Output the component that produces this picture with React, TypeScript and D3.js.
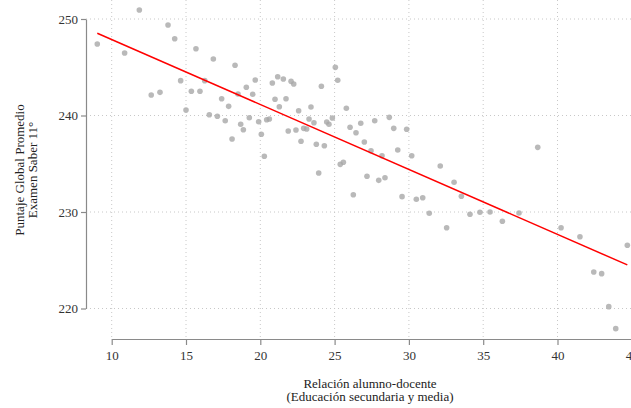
import React from 'react';
import * as d3 from 'd3';

// student-teacher ratio (x) and mean Saber 11 score (y)
const ratio = [
  9.03, 11.86, 10.87, 13.79, 14.24, 12.66, 13.25, 14.64, 15.0, 15.67,
  15.36, 15.94, 16.26, 16.84, 16.57, 17.11, 17.4, 17.87, 17.64, 18.3,
  18.5, 18.68, 18.86, 18.1, 19.26, 19.06, 19.49, 19.66, 19.89, 20.07,
  20.43, 20.61, 20.81, 20.99, 21.17, 21.28, 20.27, 21.55, 21.73, 22.07,
  22.25, 21.88, 22.4, 22.58, 22.74, 22.92, 23.12, 23.28, 23.41, 23.61,
  23.77, 23.93, 24.11, 24.31, 24.47, 24.62, 24.85, 25.05, 25.21, 25.38,
  25.59, 25.79, 26.04, 26.26, 26.44, 26.76, 27.0, 27.18, 27.45, 27.7,
  27.97, 28.19, 28.39, 28.68, 28.98, 29.25, 29.54, 29.85, 30.19, 30.5,
  30.93, 31.37, 32.11, 33.04, 33.53, 32.54, 34.11, 34.78, 35.46, 36.29,
  37.41, 38.67, 40.24, 41.51, 44.7, 42.44, 42.97, 43.45, 43.92
];
const score = [
  247.41, 250.93, 246.48, 249.38, 247.96, 242.12, 242.4, 243.61, 240.57, 246.92,
  242.51, 242.51, 243.61, 245.85, 240.08, 239.92, 241.74, 240.95, 239.46, 245.2,
  242.23, 239.09, 238.53, 237.56, 239.77, 242.92, 242.2, 243.68, 239.36, 238.05,
  239.56, 239.64, 243.37, 241.68, 244.02, 240.91, 235.77, 243.78, 241.74, 243.54,
  243.26, 238.39, 238.5, 240.5, 237.33, 238.67, 238.6, 239.64, 240.88, 239.25,
  237.02, 234.04, 243.03, 236.87, 239.33, 239.09, 239.74, 244.99, 243.65, 234.94,
  235.15, 240.75, 238.78, 231.79, 238.22, 239.19, 237.25, 233.7, 236.35, 239.46,
  233.28, 235.83, 233.55, 239.81, 238.67, 236.42, 231.59, 238.57, 235.83, 231.32,
  231.48, 229.87, 234.77, 233.08, 231.63, 228.37, 229.76, 229.97, 230.0, 229.04,
  229.9, 236.7, 228.37, 227.44, 226.55, 223.78, 223.61, 220.19, 217.91
];

// linear fit shown in red
const fitIntercept = 254.6;
const fitSlope = -0.673;

const xTicks = [10, 15, 20, 25, 30, 35, 40, 45];
const yTicks = [220, 230, 240, 250];

const W = 631;
const H = 408;
const FONT = '"Liberation Serif", "Times New Roman", serif';

const Chart = () => {
  const svgRef = React.useRef<SVGSVGElement>(null);

  React.useEffect(() => {
    const svg = d3.select(svgRef.current);
    svg.selectAll('*').remove();

    const x = d3.scaleLinear().domain([10, 45]).range([111.7, 631.8]);
    const y = d3.scaleLinear().domain([220, 250]).range([308.5, 19]);
    const axisX = 86;
    const axisY = 339;

    // grid
    svg.append('g')
      .selectAll('line')
      .data(xTicks)
      .enter()
      .append('line')
      .attr('x1', (d) => x(d))
      .attr('x2', (d) => x(d))
      .attr('y1', 0)
      .attr('y2', axisY)
      .attr('stroke', '#c8c8c8')
      .attr('stroke-width', 1)
      .style('stroke-dasharray', '1,3');

    svg.append('g')
      .selectAll('line')
      .data(yTicks)
      .enter()
      .append('line')
      .attr('x1', axisX)
      .attr('x2', W)
      .attr('y1', (d) => y(d))
      .attr('y2', (d) => y(d))
      .attr('stroke', '#c8c8c8')
      .attr('stroke-width', 1)
      .style('stroke-dasharray', '1,3');

    // axes
    const gx = svg.append('g')
      .attr('transform', `translate(0,${axisY})`)
      .call(d3.axisBottom(x).tickValues(xTicks).tickSize(6).tickSizeOuter(0).tickPadding(6));
    const gy = svg.append('g')
      .attr('transform', `translate(${axisX},0)`)
      .call(d3.axisLeft(y).tickValues(yTicks).tickSize(5).tickSizeOuter(0).tickPadding(3));

    [gx, gy].forEach((g) => {
      g.selectAll('path').attr('stroke', '#8a8a8a').attr('stroke-width', 1.2);
      g.selectAll('line').attr('stroke', '#8a8a8a').attr('stroke-width', 1.2);
      g.selectAll('text')
        .attr('fill', '#333')
        .style('font-family', FONT)
        .style('font-size', '13px');
    });

    // points
    svg.append('g')
      .selectAll('circle')
      .data(ratio.map((r, i) => ({ r, s: score[i] })))
      .enter()
      .append('circle')
      .attr('cx', (d) => x(d.r))
      .attr('cy', (d) => y(d.s))
      .attr('r', 2.8)
      .attr('fill', '#a8a8a8')
      .attr('fill-opacity', 0.8);

    // fitted line over the range of the data
    const [xmin, xmax] = d3.extent(ratio) as [number, number];
    svg.append('line')
      .attr('x1', x(xmin))
      .attr('y1', y(fitIntercept + fitSlope * xmin))
      .attr('x2', x(xmax))
      .attr('y2', y(fitIntercept + fitSlope * xmax))
      .attr('stroke', '#ff0000')
      .attr('stroke-width', 1.5);

    // titles
    svg.append('text')
      .attr('x', 370)
      .attr('y', 388)
      .style('text-anchor', 'middle')
      .style('font-family', FONT)
      .style('font-size', '13px')
      .attr('fill', '#222')
      .text('Relación alumno-docente');
    svg.append('text')
      .attr('x', 370)
      .attr('y', 401)
      .style('text-anchor', 'middle')
      .style('font-family', FONT)
      .style('font-size', '13px')
      .attr('fill', '#222')
      .text('(Educación secundaria y media)');

    svg.append('text')
      .attr('transform', 'translate(24,170) rotate(-90)')
      .style('text-anchor', 'middle')
      .style('font-family', FONT)
      .style('font-size', '13px')
      .attr('fill', '#222')
      .text('Puntaje Global Promedio');
    svg.append('text')
      .attr('transform', 'translate(37,170) rotate(-90)')
      .style('text-anchor', 'middle')
      .style('font-family', FONT)
      .style('font-size', '13px')
      .attr('fill', '#222')
      .text('Examen Saber 11°');
  }, []);

  return (
    <svg
      ref={svgRef}
      width={W}
      height={H}
      style={{ position: 'absolute', left: 0, top: 0, background: '#fff' }}
    />
  );
};

export default function App() {
  return <Chart />;
}
